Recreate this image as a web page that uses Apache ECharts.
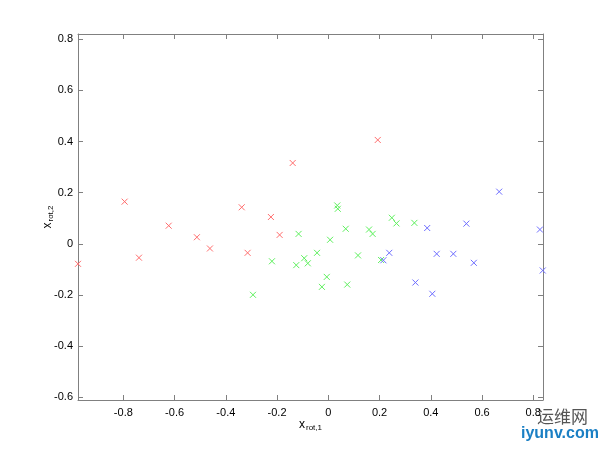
<!DOCTYPE html>
<html>
<head>
<meta charset="utf-8">
<script src="https://cdn.jsdelivr.net/npm/echarts@6/dist/echarts.min.js"></script>
<style>html,body{margin:0;padding:0;background:#fff}#c{width:600px;height:450px}</style>
</head>
<body>
<div id="c"></div>
<script>
// Cluster 1 (red)
const redX = [-0.977, -0.795, -0.739, -0.623, -0.513, -0.462, -0.139, -0.338, -0.224, -0.190, -0.315, 0.193];
const redY = [-0.078, 0.165, -0.054, 0.071, 0.026, -0.018, 0.316, 0.143, 0.105, 0.035, -0.035, 0.406];
// Cluster 2 (green)
const greenX = [-0.116, -0.220, -0.294, -0.094, -0.125, -0.080, -0.044, 0.035, 0.037, 0.248, 0.266, 0.336, 0.068, 0.159, 0.173, 0.007, 0.116, -0.006, -0.025, 0.074, 0.206];
const greenY = [0.039, -0.068, -0.199, -0.056, -0.083, -0.076, -0.035, 0.150, 0.137, 0.102, 0.080, 0.082, 0.059, 0.056, 0.039, 0.016, -0.045, -0.129, -0.168, -0.159, -0.063];
// Cluster 3 (blue)
const blueX = [0.238, 0.215, 0.386, 0.340, 0.667, 0.539, 0.826, 0.423, 0.488, 0.568, 0.837, 0.406];
const blueY = [-0.035, -0.064, 0.062, -0.151, 0.204, 0.079, 0.056, -0.039, -0.039, -0.074, -0.104, -0.195];
// Tick labels
const xTicks = [-0.8, -0.6, -0.4, -0.2, 0, 0.2, 0.4, 0.6, 0.8];
const yTicks = [-0.6, -0.4, -0.2, 0, 0.2, 0.4, 0.6, 0.8];
const xRange = [-0.977, 0.838];
const yRange = [-0.61, 0.82];

const zip = (a, b) => a.map((v, i) => [v, b[i]]);
const cross = 'path://M0,0 L10,10 M10,0 L0,10';
function mk(name, x, y, col) {
  return {
    name, type: 'scatter', xAxisIndex: 0, yAxisIndex: 0,
    data: zip(x, y), symbol: cross, symbolSize: 6,
    itemStyle: { color: 'none', borderColor: col, borderWidth: 1, opacity: 1 },
    emphasis: { disabled: true }, animation: false
  };
}
const axisCol = '#808080';
const font = 'Liberation Sans, Arial, sans-serif';
const baseX = {
  type: 'value', min: xRange[0], max: xRange[1],
  axisLine: { onZero: false, lineStyle: { color: axisCol, width: 1 } },
  axisTick: { inside: true, length: 5, customValues: xTicks, lineStyle: { color: axisCol } },
  splitLine: { show: false }
};
const baseY = {
  type: 'value', min: yRange[0], max: yRange[1],
  axisLine: { onZero: false, lineStyle: { color: axisCol, width: 1 } },
  axisTick: { inside: true, length: 5, customValues: yTicks, lineStyle: { color: axisCol } },
  splitLine: { show: false }
};
const chart = echarts.init(document.getElementById('c'));
chart.setOption({
  animation: false,
  backgroundColor: '#fff',
  grid: { left: 78, right: 57, top: 34, bottom: 50, containLabel: false },
  xAxis: [
    Object.assign({}, baseX, {
      position: 'bottom',
      axisLabel: { customValues: xTicks, color: '#000', fontSize: 11, fontFamily: font, margin: 7 },
      name: '{a|x}{b|rot,1}', nameLocation: 'middle', nameGap: 17, nameMoveOverlap: false,
      nameTextStyle: { rich: {
        a: { fontSize: 12, fontFamily: font, color: '#000' },
        b: { fontSize: 8, fontFamily: font, color: '#000', padding: [7, 0, 0, 1] }
      } }
    }),
    Object.assign({}, baseX, { position: 'top', axisLabel: { show: false } })
  ],
  yAxis: [
    Object.assign({}, baseY, {
      position: 'left',
      axisLabel: { customValues: yTicks, color: '#000', fontSize: 11, fontFamily: font, margin: 5 },
      name: '{a|x}{b|rot,2}', nameLocation: 'middle', nameGap: 23, nameRotate: 90, nameMoveOverlap: false,
      nameTextStyle: { rich: {
        a: { fontSize: 12, fontFamily: font, color: '#000' },
        b: { fontSize: 8, fontFamily: font, color: '#000', padding: [7, 0, 0, 1] }
      } }
    }),
    Object.assign({}, baseY, { position: 'right', axisLabel: { show: false } })
  ],
  series: [
    mk('c1', redX, redY, '#ff6e6e'),
    mk('c2', greenX, greenY, '#5ef05e'),
    mk('c3', blueX, blueY, '#6e6eff')
  ],
  graphic: [
    { type: 'text', left: 537, top: 408, style: { text: '运维网', fill: '#555', font: '17px "Noto Sans CJK SC", sans-serif' } },
    { type: 'text', left: 521, top: 426, style: { text: 'iyunv.com', fill: '#1a7fc4', font: 'bold 16px "Liberation Sans", Arial, sans-serif' } }
  ]
});
</script>
</body>
</html>
